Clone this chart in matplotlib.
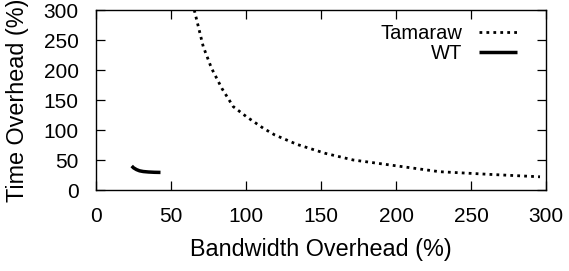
import matplotlib
matplotlib.use("Agg")
import matplotlib.pyplot as plt

plt.rcParams['font.family'] = ['Liberation Sans', 'DejaVu Sans']

tamaraw_bw = [65.5, 71.5, 77, 84, 91.5, 100.4, 111.5, 119, 134, 153, 171.5, 196, 229, 262.7, 296]
tamaraw_time = [300, 239, 203, 169, 139, 122, 103, 92, 76, 61, 50, 41.7, 30.5, 26, 22]

wt_bw = [23.8, 25, 27, 29, 31.5, 35, 39, 43]
wt_time = [40, 37, 34, 32, 30.8, 30, 29.5, 29.3]

xticks = [0, 50, 100, 150, 200, 250, 300]
yticks = [0, 50, 100, 150, 200, 250, 300]

fs_tick = 15.0
fs_leg = 14.5
fs_lab = 16.8
fig = plt.figure(figsize=(5.69, 2.71), dpi=100)
ax = fig.add_axes([96/569, 1-190/271, 450/569, 180/271])

ax.plot(tamaraw_bw, tamaraw_time, color='black', lw=2.0,
        linestyle=(0, (1, 1.5)), dash_capstyle='butt', label='Tamaraw')
ax.plot(wt_bw, wt_time, color='black', lw=2.5, solid_capstyle='butt', label='WT')

ax.set_xlim(0, 300)
ax.set_ylim(0, 300)
ax.set_xticks(xticks)
ax.set_yticks(yticks)
ax.tick_params(direction='in', length=6.5, width=0.9, top=True, right=True,
               labelsize=fs_tick)
ax.tick_params(axis='x', pad=12.5)
ax.tick_params(axis='y', pad=12.5)
for s in ax.spines.values():
    s.set_linewidth(1.0)

ax.set_xlabel('Bandwidth Overhead (%)', fontsize=fs_lab, va='center')
ax.xaxis.set_label_coords(0.5, -0.333)
ax.set_ylabel('Time Overhead (%)', fontsize=fs_lab, va='center')
ax.yaxis.set_label_coords(-0.175, 0.5)

ax.legend(loc='upper right', bbox_to_anchor=(0.9356, 0.92), markerfirst=False,
          frameon=False, fontsize=fs_leg, handlelength=1.9, handletextpad=0.8,
          labelspacing=0.05, borderpad=0, borderaxespad=0)

fig.savefig('out.png', dpi=100)
